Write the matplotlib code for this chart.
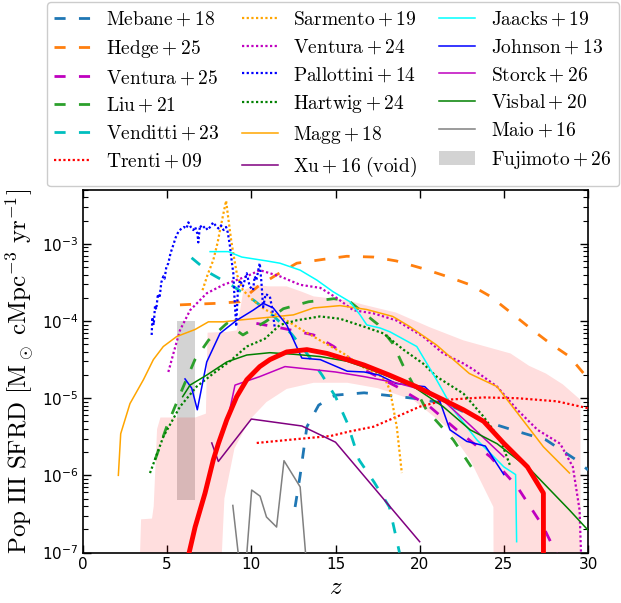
import numpy as np
import matplotlib
matplotlib.use("Agg")
import matplotlib.pyplot as plt
from matplotlib.font_manager import FontProperties

# ---------------- data (z, log10 SFRD) ----------------
mebane_z = [12.6, 12.9, 13.3, 14.0, 15.0, 16.7, 19.6, 21.6, 23.6, 25.8, 27.5, 29.3, 30.0]
mebane_y = [-6.41, -6.0, -5.37, -5.09, -4.96, -4.93, -5.0, -5.07, -5.28, -5.43, -5.54, -5.8, -5.93]

hedge_z = [5.76, 6.75, 8.0, 9.3, 10.4, 11.5, 12.7, 14.28, 15.67, 17.25, 18.6, 20.2, 21.6, 23.0, 24.2, 25.47, 26.55, 27.75, 28.9, 29.9, 30.0]
hedge_y = [-3.79, -3.78, -3.77, -3.75, -3.55, -3.40, -3.25, -3.20, -3.16, -3.17, -3.22, -3.32, -3.42, -3.53, -3.68, -3.90, -4.09, -4.29, -4.46, -4.72, -4.74]

ventura25_z = [10.3, 12.0, 13.7, 14.9, 16.7, 18.64, 20.6, 22.2, 24.2, 25.8, 27.35, 28.2]
ventura25_y = [-4.03, -4.10, -4.18, -4.33, -4.63, -4.85, -5.11, -5.41, -5.76, -6.15, -6.67, -7.05]

liu_z = [4.28, 4.97, 5.96, 6.65, 7.45, 8.54, 9.5, 10.9, 11.9, 13.4, 14.9, 15.8, 17.5, 18.4, 19.0, 20.4, 22.0, 23.4]
liu_y = [-5.8, -5.37, -4.85, -4.5, -4.25, -4.03, -4.18, -4.0, -3.84, -3.75, -3.71, -3.74, -4.04, -4.29, -4.57, -5.15, -5.54, -6.0]

venditti_z = [6.45, 7.55, 8.93, 10.2, 11.4, 12.4, 13.3, 14.2, 15.0, 15.7, 16.4, 17.3, 18.2, 18.8]
venditti_y = [-3.18, -3.38, -3.55, -3.74, -3.95, -4.17, -4.42, -4.70, -4.98, -5.32, -5.80, -6.09, -6.41, -7.0]

trenti_z = [10.32, 12.7, 14.7, 15.86, 17.25, 18.64, 20.0, 21.6, 23.8, 25.8, 28.15, 30.0]
trenti_y = [-5.58, -5.53, -5.49, -5.43, -5.37, -5.24, -5.11, -5.02, -4.99, -5.0, -5.04, -5.13]

sarmento_z = [7.1, 7.4, 7.74, 8.0, 8.14, 8.3, 8.5, 8.65, 8.8, 8.95, 9.15, 9.5, 10.1, 10.8, 11.7, 12.9, 14.08, 15.47, 16.66, 17.5, 18.0, 18.24, 18.64, 18.94]
sarmento_y = [-3.6, -3.4, -3.21, -2.98, -2.82, -2.65, -2.44, -2.7, -2.95, -3.15, -3.40, -3.60, -3.73, -3.85, -3.94, -4.1, -4.25, -4.42, -4.6, -4.68, -4.78, -4.9, -5.37, -5.97]

ventura24_z = [5.07, 5.37, 5.76, 6.36, 7.35, 8.34, 9.73, 10.5, 11.7, 12.9, 14.1, 15.07, 16.06, 17.25, 18.6, 20.2, 21.4, 22.6, 23.2, 24.6, 25.8, 27.0, 28.35, 29.1, 29.5, 29.6]
ventura24_y = [-4.66, -4.42, -4.12, -3.86, -3.64, -3.53, -3.42, -3.34, -3.42, -3.53, -3.57, -3.70, -3.86, -3.90, -3.99, -4.20, -4.42, -4.55, -4.63, -4.85, -5.15, -5.41, -5.59, -5.89, -6.45, -7.1]

pallottini_z = [4.08, 4.12, 4.2, 4.28, 4.35, 4.45, 4.55, 4.65, 4.77, 4.85, 4.95, 5.07, 5.2, 5.37, 5.5, 5.67, 5.85, 6.0, 6.15, 6.26, 6.4, 6.55, 6.66, 6.8, 6.85, 6.95, 7.1, 7.25, 7.4, 7.55, 7.74, 7.9, 8.05, 8.2, 8.35, 8.5, 8.6, 8.73, 8.85, 8.93, 9.0, 9.1, 9.2, 9.33, 9.5, 9.73, 9.9, 10.1, 10.2, 10.3, 10.45, 10.5, 10.6, 10.7, 10.85, 11.1, 11.25, 11.4]
pallottini_y = [-4.18, -3.95, -4.05, -3.80, -3.85, -3.65, -3.70, -3.50, -3.42, -3.45, -3.30, -3.25, -3.12, -3.01, -2.92, -2.84, -2.80, -2.78, -2.80, -2.72, -2.78, -2.82, -2.78, -2.87, -2.98, -2.76, -2.80, -2.77, -2.82, -2.78, -2.72, -2.77, -2.80, -2.76, -2.82, -2.78, -2.85, -3.03, -3.25, -3.38, -3.7, -4.07, -3.6, -3.47, -3.55, -3.38, -3.55, -3.60, -3.42, -3.47, -3.3, -3.25, -3.5, -3.82, -3.65, -3.68, -3.85, -4.1]

hartwig_z = [3.98, 4.77, 5.76, 6.75, 7.74, 8.73, 9.73, 10.8, 11.7, 12.7, 14.08, 15.27, 16.66, 17.85, 19.03, 20.2, 21.0, 22.6, 23.8, 24.8, 25.4]
hartwig_y = [-5.97, -5.50, -5.11, -4.85, -4.68, -4.52, -4.33, -4.23, -4.05, -3.99, -3.94, -3.97, -4.07, -4.16, -4.37, -4.55, -4.72, -4.94, -5.24, -5.54, -5.89]

magg_z = [2.1, 2.24, 2.79, 3.59, 4.18, 4.77, 5.57, 6.65, 7.45, 8.34, 9.13, 11.1, 12.5, 13.7, 15.27, 16.85, 18.4, 19.4, 21.0, 22.95, 24.6, 25.8, 27.35, 28.9]
magg_y = [-6.0, -5.46, -5.07, -4.76, -4.5, -4.33, -4.2, -4.11, -4.01, -4.01, -3.99, -3.95, -3.92, -3.83, -3.80, -3.85, -3.94, -4.07, -4.31, -4.68, -4.85, -5.19, -5.63, -5.97]

xu_z = [7.65, 8.04, 10.0, 13.0, 15.0, 20.0]
xu_y = [-5.58, -5.82, -5.27, -5.36, -5.57, -6.86]

jaacks_z = [7.55, 8.63, 9.43, 10.9, 11.7, 12.9, 13.9, 14.86, 15.86, 16.46, 16.86, 17.65, 18.24, 19.83, 21.0, 22.0, 23.4, 25.0, 25.7, 25.76]
jaacks_y = [-3.10, -3.10, -3.17, -3.22, -3.25, -3.34, -3.47, -3.62, -3.75, -3.92, -4.05, -4.09, -4.14, -4.33, -4.76, -5.15, -5.54, -5.89, -5.99, -6.86]

johnson_z = [6.06, 6.46, 6.79, 7.35, 8.14, 8.54, 9.13, 10.1, 10.7, 11.3, 12.1, 13.0, 14.1, 15.7, 16.7, 17.6, 18.6, 20.3, 21.2, 21.8, 22.8, 23.9, 25.0]
johnson_y = [-4.75, -4.87, -5.15, -4.53, -4.16, -4.09, -3.99, -3.86, -3.77, -3.83, -4.05, -4.48, -4.50, -4.65, -4.66, -4.70, -4.81, -4.85, -5.04, -5.41, -5.56, -5.62, -5.99]

storck_z = [8.54, 9.03, 10.5, 12.0, 15.0, 16.7, 18.6, 19.8, 21.5, 23.0, 25.0]
storck_y = [-5.33, -4.83, -4.72, -4.59, -4.66, -4.72, -4.80, -4.87, -5.05, -5.35, -5.76]

visbal_z = [5.92, 6.36, 7.35, 8.54, 9.73, 11.1, 12.5, 14.08, 15.67, 17.0, 19.63, 21.4, 23.0, 24.6, 26.6, 27.75, 28.9, 30.0]
visbal_y = [-4.98, -4.83, -4.70, -4.53, -4.44, -4.41, -4.43, -4.46, -4.52, -4.62, -4.85, -5.11, -5.41, -5.59, -5.93, -6.19, -6.45, -6.71]

maio_z = [8.9, 9.37, 9.63, 10.02, 10.52, 10.9, 11.5, 11.94, 12.9, 13.33]
maio_y = [-6.39, -7.3, -7.3, -6.19, -6.27, -6.54, -6.67, -5.81, -6.15, -7.3]

fujimoto_z = [5.57, 6.65]
fujimoto_lo, fujimoto_hi = 4.8e-7, 1.0e-4

model_z = [6.2, 6.66, 7.25, 7.74, 8.04, 8.54, 9.13, 9.73, 10.5, 11.1, 12.1, 13.3, 14.5, 15.7, 16.7, 18.2, 19.8, 21.4, 22.6, 23.8, 25.0, 26.4, 27.35, 27.36]
model_y = [-7.1, -6.67, -6.23, -5.80, -5.59, -5.28, -4.98, -4.76, -4.59, -4.50, -4.40, -4.37, -4.42, -4.50, -4.57, -4.70, -4.85, -5.02, -5.15, -5.30, -5.585, -5.89, -6.23, -8.0]

band_up_z = [3.25, 3.45, 4.1, 4.2, 4.4, 4.6, 6.67, 7.3, 7.4, 8.54, 9.13, 9.53, 10.3, 11.0, 12.1, 13.0, 13.7, 15.7, 16.7, 18.6, 20.6, 22.6, 25.4, 26.5, 27.5, 28.5, 29.55, 29.56]
band_up_y = [-8.0, -6.57, -6.56, -6.4, -5.4, -5.25, -5.25, -5.2, -4.15, -4.14, -4.12, -3.6, -3.53, -3.55, -3.55, -3.62, -3.68, -3.73, -3.79, -3.89, -4.08, -4.25, -4.42, -4.58, -4.68, -4.82, -5.02, -8.0]
band_lo_z = [24.4, 24.38, 23.0, 21.6, 19.6, 17.5, 15.7, 13.7, 12.1, 10.9, 9.9, 9.0, 8.4, 8.04]
band_lo_y = [-8.0, -6.41, -5.80, -5.37, -5.02, -4.87, -4.80, -4.80, -4.88, -5.05, -5.28, -5.65, -6.3, -8.0]

labels = ["Mebane+18", "Hedge+25", "Ventura+25", "Liu+21", "Venditti+23", "Trenti+09",
          "Sarmento+19", "Ventura+24", "Pallottini+14", "Hartwig+24", "Magg+18", "Xu+16\\ (void)",
          "Jaacks+19", "Johnson+13", "Storck+26", "Visbal+20", "Maio+16", "Fujimoto+26"]

# ---------------- figure ----------------
W, H = 621, 603
fig = plt.figure(figsize=(W / 100, H / 100), dpi=100)
ax = fig.add_axes([83 / W, 1 - 552.5 / H, (588 - 83) / W, (552.5 - 190) / H])

def p(v):
    return 10.0 ** np.asarray(v, dtype=float)

dash = (0, (4.0, 4.8))
dot = (0, (1, 1.1))
series = [
    (mebane_z, mebane_y, dict(color="#1f77b4", ls=dash, lw=2)),
    (hedge_z, hedge_y, dict(color="#ff7f0e", ls=dash, lw=2)),
    (ventura25_z, ventura25_y, dict(color="m", ls=dash, lw=2)),
    (liu_z, liu_y, dict(color="#2ca02c", ls=dash, lw=2)),
    (venditti_z, venditti_y, dict(color="c", ls=dash, lw=2)),
    (trenti_z, trenti_y, dict(color="red", ls=dot, lw=1.6)),
    (sarmento_z, sarmento_y, dict(color="orange", ls=dot, lw=1.6)),
    (ventura24_z, ventura24_y, dict(color="m", ls=dot, lw=1.6)),
    (pallottini_z, pallottini_y, dict(color="blue", ls=dot, lw=1.6)),
    (hartwig_z, hartwig_y, dict(color="green", ls=dot, lw=1.6)),
    (magg_z, magg_y, dict(color="orange", ls="-", lw=1.1)),
    (xu_z, xu_y, dict(color="purple", ls="-", lw=1.1)),
    (jaacks_z, jaacks_y, dict(color="cyan", ls="-", lw=1.1)),
    (johnson_z, johnson_y, dict(color="blue", ls="-", lw=1.1)),
    (storck_z, storck_y, dict(color="m", ls="-", lw=1.1)),
    (visbal_z, visbal_y, dict(color="green", ls="-", lw=1.1)),
    (maio_z, maio_y, dict(color="gray", ls="-", lw=1.1)),
]

ax.fill_between(fujimoto_z, fujimoto_lo, fujimoto_hi, color="lightgray", lw=0, zorder=1,
                label=r"$\mathrm{" + labels[-1] + "}$")

bx = list(band_up_z) + list(band_lo_z)
by = list(band_up_y) + list(band_lo_y)
ax.fill(bx, p(by), color="red", alpha=0.13, lw=0, zorder=2)

for (zz, yy, kw), lab in zip(series, labels[:-1]):
    ax.plot(zz, p(yy), label=r"$\mathrm{" + lab + "}$", zorder=3, **kw)

ax.plot(model_z, p(model_y), color="red", lw=3.5, zorder=5, solid_capstyle="butt")

ax.set_yscale("log")
ax.set_xlim(0, 30)
ax.set_ylim(1e-7, 5e-3)
ax.set_xticks([0, 5, 10, 15, 20, 25, 30])
ax.tick_params(which="both", direction="in", top=True, right=True, labelsize=11)
ax.tick_params(which="major", length=6, width=1)
ax.tick_params(which="minor", length=3.5, width=0.8)
for s in ax.spines.values():
    s.set_linewidth(1.2)

ax.set_xlabel(r"$z$", fontsize=18, math_fontfamily="cm", labelpad=2)
ax.set_ylabel(r"$\mathrm{Pop\ III\ SFRD\ [M_\odot\ cMpc^{-3}\ yr^{-1}]}$", fontsize=18,
              math_fontfamily="cm", labelpad=4)

handles, labs = ax.get_legend_handles_labels()
order = [labs.index(r"$\mathrm{" + l + "}$") for l in labels]
handles = [handles[i] for i in order]
labs = [labs[i] for i in order]
leg = fig.legend(handles, labs, ncol=3, loc="upper left",
                 bbox_to_anchor=(46.7 / W, 1 - 2 / H), bbox_transform=fig.transFigure,
                 borderaxespad=0.0,
                 prop=FontProperties(size=14, math_fontfamily="cm"),
                 handlelength=1.85, handletextpad=0.8, columnspacing=1.15,
                 labelspacing=0.45, borderpad=0.4, framealpha=1, edgecolor="0.8")

fig.savefig("out.png", dpi=100)
